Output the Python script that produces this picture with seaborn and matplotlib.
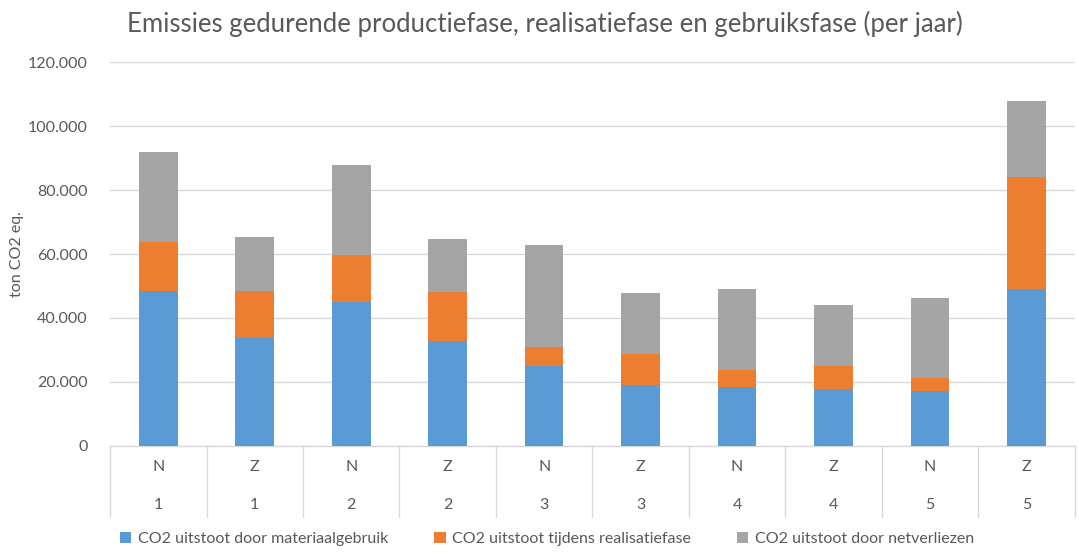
import numpy as np
import pandas as pd
import seaborn as sns
import matplotlib.pyplot as plt
from matplotlib.patches import Patch
from matplotlib.ticker import FuncFormatter

# data (ton CO2 eq. per jaar)
richting = ['N', 'Z', 'N', 'Z', 'N', 'Z', 'N', 'Z', 'N', 'Z']
variant = ['1', '1', '2', '2', '3', '3', '4', '4', '5', '5']
materiaal = [48300, 33700, 45100, 32800, 25000, 19000, 18300, 17700, 17200, 49000]
realisatie = [15500, 14600, 14600, 15200, 5900, 9900, 5450, 7300, 4100, 35200]
netverlies = [28200, 17000, 28100, 16700, 32000, 18800, 25250, 19100, 24950, 23600]

series_names = ['CO2 uitstoot door materiaalgebruik',
                'CO2 uitstoot tijdens realisatiefase',
                'CO2 uitstoot door netverliezen']
colors = ['#5B9BD5', '#ED7D31', '#A5A5A5']
text_col = '#595959'
fs = 11.5

df = pd.DataFrame({
    'cat': [r + v for r, v in zip(richting, variant)],
    'materiaal': materiaal,
    'realisatie': realisatie,
    'netverlies': netverlies,
})
df['top_real'] = df['materiaal'] + df['realisatie']
df['top_net'] = df['top_real'] + df['netverlies']

sns.set_theme(style='white')
plt.rcParams['font.family'] = ['Lato', 'DejaVu Sans']

fig = plt.figure(figsize=(10.79, 5.54), dpi=100)
ax = fig.add_axes([0.102, 0.195, 0.894, 0.693])

# stacked bars, drawn back to front
for col, c in zip(['top_net', 'top_real', 'materiaal'], colors[::-1]):
    sns.barplot(data=df, x='cat', y=col, color=c, width=0.4,
                saturation=1, ax=ax, zorder=3, linewidth=0)

ax.set_ylim(0, 120000)
ax.set_xlim(-0.5, len(df) - 0.5)
ax.set_yticks(np.arange(0, 120001, 20000))
ax.yaxis.set_major_formatter(FuncFormatter(lambda v, p: f'{int(v):,}'.replace(',', '.')))
ax.tick_params(axis='y', labelsize=fs, labelcolor=text_col, length=0, pad=16)
ax.grid(axis='y', color='#D9D9D9', linewidth=1, zorder=0)
for s in ['top', 'right', 'left']:
    ax.spines[s].set_visible(False)
ax.spines['bottom'].set_color('#D9D9D9')
ax.spines['bottom'].set_linewidth(1)

ax.set_xticks(range(len(df)))
ax.set_xticklabels([])
ax.tick_params(axis='x', length=0)
ax.set_xlabel('')
ax.set_ylabel('ton CO2 eq.', fontsize=fs, color=text_col, labelpad=3)

# two-level category axis
trans = ax.get_xaxis_transform()
for i, (r, v) in enumerate(zip(richting, variant)):
    ax.text(i, -0.055, r, transform=trans, ha='center', va='center',
            fontsize=fs, color=text_col)
    ax.text(i, -0.154, v, transform=trans, ha='center', va='center',
            fontsize=fs, color=text_col)
for b in np.arange(-0.5, len(df), 1.0):
    ax.plot([b, b], [0, -0.185], transform=trans, color='#D9D9D9',
            linewidth=1, clip_on=False)

fig.suptitle('Emissies gedurende productiefase, realisatiefase en gebruiksfase (per jaar)',
             fontsize=18.5, color=text_col, x=0.505, y=0.98, va='top')

handles = [Patch(facecolor=c, edgecolor='none') for c in colors]
fig.legend(handles, series_names, loc='lower center', ncol=3,
           bbox_to_anchor=(0.507, -0.012), frameon=False, fontsize=fs,
           labelcolor=text_col, handlelength=0.7, handleheight=0.7,
           handletextpad=0.4, columnspacing=2.9)

fig.savefig('out.png', dpi=100)
